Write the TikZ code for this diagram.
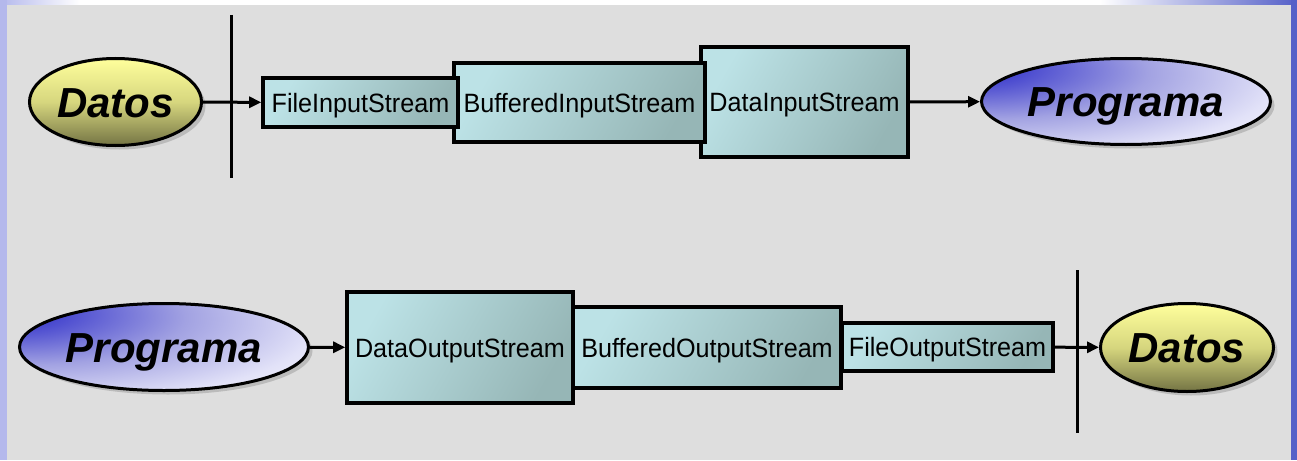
\documentclass[tikz,border=0pt]{standalone}
\usepackage{fontspec}
\setmainfont{Liberation Sans}
\newfontfamily\boxfont[FakeStretch=0.95]{Liberation Sans}
\usetikzlibrary{shapes.geometric,arrows.meta,shadows}
\definecolor{bggray}{HTML}{DEDEDE}
\definecolor{lav}{HTML}{B4B8EC}
\definecolor{edgeblue}{HTML}{5560C8}
\definecolor{boxlight}{HTML}{BCE2E6}
\definecolor{boxdark}{HTML}{96B6B6}
\definecolor{ylight}{HTML}{FFFF9C}
\definecolor{ymid}{HTML}{D6D67E}
\definecolor{ydark}{HTML}{747444}
\definecolor{pblue}{HTML}{3A3ACC}
\definecolor{pmid}{HTML}{A2A2E2}
\definecolor{plight}{HTML}{E2E2F8}
\pgfdeclareradialshading{progshade}{\pgfpoint{-30bp}{22bp}}{%
  color(0bp)=(pblue); color(7bp)=(pblue); color(27bp)=(pmid);
  color(45bp)=(plight); color(60bp)=(white); color(120bp)=(white)}
\begin{document}
\begin{tikzpicture}[x=1pt,y=-1pt,
  streambox/.style={draw=black, line width=3.6pt, rectangle, inner sep=0pt,
    top color=boxlight, bottom color=boxdark, shading angle=60,
    font=\boxfont\fontsize{26.5}{26.5}\selectfont, text height=19pt, text depth=0pt},
  ovalbase/.style={ellipse, draw=black, line width=3pt, inner sep=0pt,
    font=\fontsize{42}{42}\selectfont\bfseries\itshape, text height=30pt, text depth=0pt,
    drop shadow={shadow xshift=4pt, shadow yshift=-4pt, fill=black!40, draw=none}},
  datosoval/.style={ovalbase, top color=ylight, bottom color=ydark, middle color=ymid},
  progoval/.style={ovalbase, shading=progshade},
  flow/.style={line width=3pt, -{Triangle[length=12pt,width=11pt]}},
  barrier/.style={line width=3pt}
]
% background
\fill[bggray] (0,0) rectangle (1297,460);
\fill[white] (0,0) rectangle (1297,5);
\shade[left color=lav, right color=white] (0,0) rectangle (80,5);
\shade[left color=white, right color=edgeblue] (1100,0) rectangle (1297,5);
\fill[lav] (0,0) rectangle (7,460);
\fill[edgeblue] (1291,0) rectangle (1297,460);

% barriers
\coordinate (v1t) at (231,15);
\coordinate (v1b) at (231,178);
\coordinate (v2t) at (1077,270);
\coordinate (v2b) at (1077,433);
\draw[barrier] (v1t) -- (v1b);
\draw[barrier] (v2t) -- (v2b);

% top row (later boxes under earlier ones)
\node[streambox, minimum width=207pt, minimum height=110pt] (dis) at (804.5,102) {DataInputStream};
\node[streambox, minimum width=251pt, minimum height=79pt] (bis) at (579.5,102.5) {BufferedInputStream};
\node[streambox, minimum width=195pt, minimum height=49pt] (fis) at (360.5,102.5) {FileInputStream};
\node[datosoval, minimum width=172pt, minimum height=87pt] (d1) at (115.5,102) {Datos};
\node[progoval, minimum width=289pt, minimum height=86pt] (p1) at (1126,101.5) {Programa};

% bottom row
\node[streambox, minimum width=211pt, minimum height=48pt] (fos) at (947.5,347) {FileOutputStream};
\node[streambox, minimum width=268pt, minimum height=81pt] (bos) at (707,347.5) {BufferedOutputStream};
\node[streambox, minimum width=226pt, minimum height=111pt] (dos) at (460,347.5) {DataOutputStream};
\node[progoval, minimum width=289pt, minimum height=87pt] (p2) at (164,347) {Programa};
\node[datosoval, minimum width=173pt, minimum height=88pt] (d2) at (1187,347.5) {Datos};

% connectors
\draw[flow] (d1) -- (fis);
\draw[flow] (dis) -- (p1);
\draw[flow] (p2) -- (dos);
\draw[flow] (fos) -- (d2);
\end{tikzpicture}
\end{document}
